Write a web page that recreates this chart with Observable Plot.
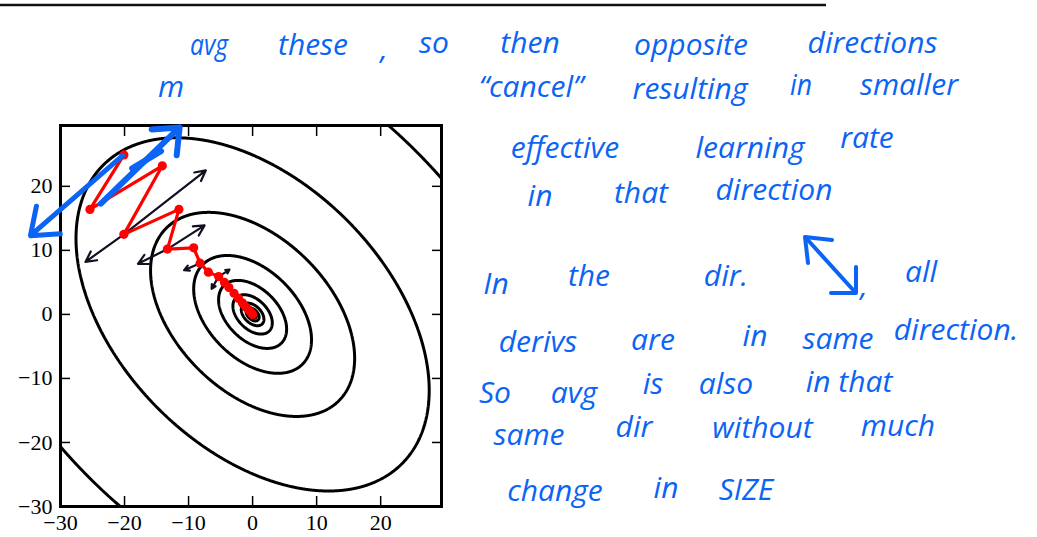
<!DOCTYPE html>
<html>
<head>
<meta charset="utf-8">
<script src="https://cdn.jsdelivr.net/npm/d3@7"></script>
<script src="https://cdn.jsdelivr.net/npm/@observablehq/plot@0.6"></script>
<style>
  html, body { margin: 0; padding: 0; background: #fff; }
  #wrap { position: relative; width: 1037px; height: 537px; overflow: hidden; }
  #wrap > svg { position: absolute; left: 0; top: 0; }
  #notes text { font-family: "Open Sans", "Noto Sans", sans-serif; font-style: italic; fill: #0b64f4; }
</style>
</head>
<body>
<div id="wrap"></div>
<script>
// Poorly conditioned quadratic loss: f(x, y) = x² + y² + crossTerm·x·y
const crossTerm = 0.86;
const contourLevels = [0.09, 0.28, 0.85, 2.55, 7.7, 23, 69, 207, 620, 1860];
const domainX = [-30, 29.5];
const domainY = [-30, 29.5];
const xTicks = [-30, -20, -10, 0, 10, 20];
const yTicks = [-30, -20, -10, 0, 10, 20];

// Momentum trajectory (red)
const pathX = [-20.1, -25.4, -14.1, -20.1, -11.5, -13.3, -9.2, -8.2, -6.9, -5.3, -4.4, -3.7, -2.9, -2.2, -1.6, -1.1, -0.7, -0.4, -0.15, 0];
const pathY = [24.9, 16.4, 23.2, 12.5, 16.4, 10.2, 10.4, 8.0, 6.6, 5.9, 5.0, 4.2, 3.3, 2.5, 1.8, 1.2, 0.8, 0.45, 0.2, 0];

// Plain gradient-descent steps (black arrows)
const stepX1 = [-20.1, -20.1, -13.3, -13.3, -8.2, -5.3, -5.3];
const stepY1 = [12.5, 12.5, 10.2, 10.2, 8.0, 5.9, 5.9];
const stepX2 = [-26.1, -7.3, -17.9, -7.5, -10.7, -6.4, -3.6];
const stepY2 = [8.2, 22.5, 7.9, 13.9, 6.9, 4.0, 7.0];

// Hand-drawn blue strokes over the chart: down-left arrow, up-right arrow, extra stroke
const inkDown = {x1: -20.3, y1: 24.8, x2: -34.7, y2: 12.3};
const inkUp = {x1: -23.7, y1: 17.3, x2: -11.4, y2: 29.2};
const inkExtra = {x1: -18.8, y1: 22.8, x2: -14.3, y2: 25.5};

// Handwritten notes: text, left edge, baseline, span width
const noteText = ["avg", "these", ",", "so", "then", "opposite", "directions", "m",
  "\u201Ccancel\u201D", "resulting", "in", "smaller",
  "effective", "learning", "rate",
  "in", "that", "direction",
  "In", "the", "dir.", ",", "all",
  "derivs", "are", "in", "same", "direction.",
  "So", "avg", "is", "also", "in that",
  "same", "dir", "without", "much",
  "change", "in", "SIZE"];
const noteX = [190, 265, 380, 418, 497, 610, 795, 145,
  467, 620, 790, 850,
  487, 690, 832,
  525, 605, 700,
  480, 555, 680, 860, 885,
  478, 618, 742, 800, 893,
  472, 545, 640, 690, 795,
  480, 598, 700, 848,
  480, 650, 705];
const noteY = [55, 55, 59, 53, 53, 55, 53, 97,
  97, 99, 95, 95,
  158, 158, 148,
  206, 203, 200,
  294, 286, 286, 296, 282,
  352, 350, 346, 349, 340,
  403, 403, 394, 394, 392,
  445, 437, 438, 436,
  501, 498, 500];
const noteW = [38, 96, 8, 32, 66, 162, 155, 52,
  128, 140, 22, 118,
  156, 120, 70,
  30, 72, 148,
  32, 68, 92, 8, 72,
  120, 70, 26, 76, 126,
  46, 58, 26, 72, 108,
  98, 72, 125, 100,
  150, 32, 82];

const loss = (x, y) => x * x + y * y + crossTerm * x * y;
const signed = d => (d < 0 ? "\u2212" : "") + Math.abs(d);
const idx = n => d3.range(n);
const ink = "#0b64f4";

const chart = Plot.plot({
  width: 460,
  height: 537,
  marginLeft: 60,
  marginRight: 19,
  marginTop: 125,
  marginBottom: 31,
  x: {domain: domainX},
  y: {domain: domainY},
  style: {fontFamily: "'Liberation Serif', serif", fontSize: "22px", color: "black", background: "transparent", overflow: "visible"},
  marks: [
    Plot.contour({
      x1: domainX[0], y1: domainY[0], x2: domainX[1], y2: domainY[1],
      value: loss, thresholds: contourLevels, pixelSize: 0.5,
      fill: "none", stroke: "black", strokeWidth: 3
    }),
    Plot.frame({stroke: "black", strokeWidth: 2.2}),
    Plot.axisX({anchor: "bottom", ticks: xTicks, tickSize: -10, tickPadding: 18, tickFormat: signed, strokeWidth: 1.5, fontSize: 22, label: null}),
    Plot.axisX({anchor: "top", ticks: xTicks, tickSize: -10, tickFormat: () => "", strokeWidth: 1.5, label: null}),
    Plot.axisY({anchor: "left", ticks: yTicks, tickSize: -10, tickPadding: 18, tickFormat: signed, strokeWidth: 1.5, fontSize: 22, label: null}),
    Plot.axisY({anchor: "right", ticks: yTicks, tickSize: -10, tickFormat: () => "", strokeWidth: 1.5, label: null}),
    Plot.arrow(idx(stepX1.length), {
      x1: i => stepX1[i], y1: i => stepY1[i], x2: i => stepX2[i], y2: i => stepY2[i],
      stroke: "#111122", strokeWidth: 2.2, headLength: 8, headAngle: 55
    }),
    Plot.line(idx(pathX.length), {x: i => pathX[i], y: i => pathY[i], stroke: "red", strokeWidth: 3.2}),
    Plot.dot(idx(pathX.length), {x: i => pathX[i], y: i => pathY[i], r: 4.6, fill: "red", stroke: "none"}),
    Plot.arrow([inkDown], {x1: "x1", y1: "y1", x2: "x2", y2: "y2", stroke: ink, strokeWidth: 5, headLength: 9, headAngle: 75, strokeLinecap: "round", clip: false}),
    Plot.arrow([inkUp], {x1: "x1", y1: "y1", x2: "x2", y2: "y2", stroke: ink, strokeWidth: 6, headLength: 7, headAngle: 80, strokeLinecap: "round", clip: false}),
    Plot.link([inkExtra], {x1: "x1", y1: "y1", x2: "x2", y2: "y2", stroke: ink, strokeWidth: 6, strokeLinecap: "round", clip: false})
  ]
});

const wrap = document.getElementById("wrap");
wrap.appendChild(chart);

// Overlay: page rule at the top, handwritten notes and the diagonal double arrow
const notes = d3.select(wrap).append("svg")
  .attr("id", "notes")
  .attr("width", 1037).attr("height", 537)
  .attr("xmlns", "http://www.w3.org/2000/svg");

notes.append("line")
  .attr("x1", 0).attr("x2", 826).attr("y1", 5).attr("y2", 5)
  .attr("stroke", "#111").attr("stroke-width", 2.5);

// Each word sits centred in its span; words wider than the span are squeezed to fit
noteText.forEach((t, i) => {
  const el = notes.append("text")
    .attr("x", noteX[i] + noteW[i] / 2).attr("y", noteY[i])
    .attr("text-anchor", "middle")
    .attr("font-size", 30)
    .text(t);
  const natural = el.node().getComputedTextLength();
  if (natural > noteW[i]) el.attr("textLength", noteW[i]).attr("lengthAdjust", "spacingAndGlyphs");
});

const dbl = notes.append("g")
  .attr("fill", "none").attr("stroke", ink).attr("stroke-width", 4)
  .attr("stroke-linecap", "round").attr("stroke-linejoin", "round");
dbl.append("path").attr("d", "M806,238 L855,292");
dbl.append("path").attr("d", "M808,263 L805,237 L832,240");
dbl.append("path").attr("d", "M856,267 L856,293 L831,293");
</script>
</body>
</html>
